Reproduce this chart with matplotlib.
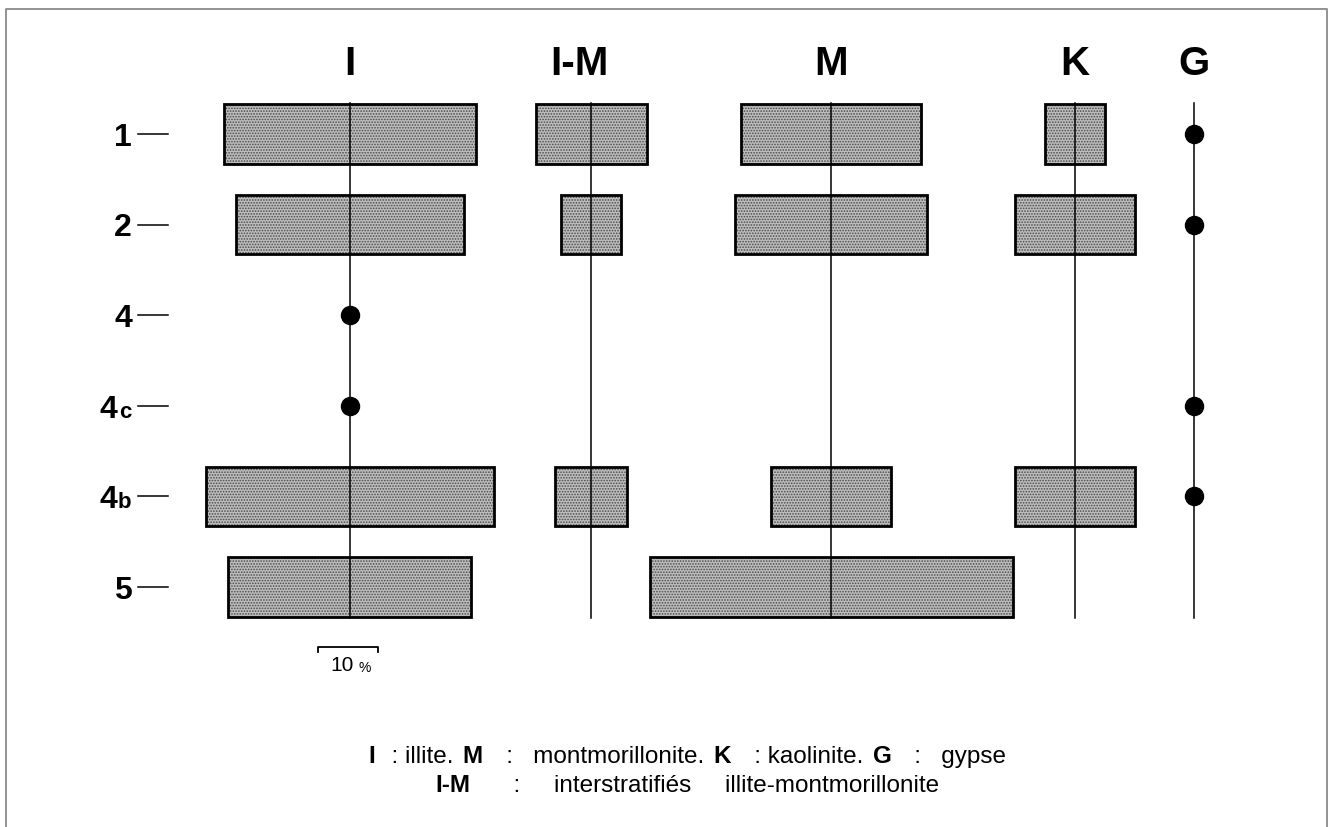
"""
Diagramme des minéraux argileux : largeur des barres = pourcentage,
point noir = traces.
"""

import matplotlib
matplotlib.use("Agg")
import matplotlib.pyplot as plt
from matplotlib.patches import Rectangle
from matplotlib.offsetbox import TextArea, HPacker, AnnotationBbox

plt.rcParams["font.family"] = ["Liberation Sans", "DejaVu Sans"]
plt.rcParams["hatch.linewidth"] = 0.8

# --- données (largeur en %, "tr" = traces, 0 = absent)
minerals = ["I", "I-M", "M", "K", "G"]
row_main = ["1", "2", "4", "4", "4", "5"]
row_sub = ["", "", "", "c", "b", ""]
illite = [42, 38, "tr", "tr", 48, 40.5]
interstrat = [18.5, 10, 0, 0, 12, 0]
montmo = [30, 32, 0, 0, 20, 60.5]
kaolinite = [10, 20, 0, 0, 20, 0]
gypse = ["tr", "tr", 0, "tr", "tr", 0]
columns = [illite, interstrat, montmo, kaolinite, gypse]

# position des colonnes (en unités de %) et échelle
col_pos = [58.3, 98.5, 138.5, 179.2, 199.0]
header_pos = [58.3, 96.5, 138.5, 179.2, 199.0]
scale_pct = 10

W, H = 1333, 828
px_per_pct = 6.0
row_top_px, row_step_px = 135, 90.6

fig = plt.figure(figsize=(W / 100, H / 100), dpi=100)
ax = fig.add_axes([0, 0, 1, 1])
ax.set_xlim(0, W / px_per_pct)
ax.set_ylim((H - row_top_px) / row_step_px, -row_top_px / row_step_px)
ax.axis("off")

bar_h = 0.66
line_top, line_bot = -0.34, 5.34

for xc, vals in zip(col_pos, columns):
    ax.plot([xc, xc], [line_top, line_bot], color="black", lw=1.1, zorder=3)
    for i, v in enumerate(vals):
        if v == "tr":
            ax.plot(xc, i, "o", color="black", ms=13, zorder=4)
        elif v > 0:
            ax.add_patch(Rectangle((xc - v / 2, i - bar_h / 2), v, bar_h,
                                   facecolor="#bdbdbd", edgecolor="#4a4a4a",
                                   hatch="......", lw=0, zorder=1))
            ax.add_patch(Rectangle((xc - v / 2, i - bar_h / 2), v, bar_h,
                                   facecolor="none", edgecolor="black",
                                   lw=2.0, zorder=2))

# titres des colonnes
for xh, name in zip(header_pos, minerals):
    ax.text(xh, -0.78, name, ha="center", va="center", fontsize=29,
            fontweight="bold")

# étiquettes des niveaux
for i, (m, s) in enumerate(zip(row_main, row_sub)):
    ax.plot([23.0, 28.0], [i, i], color="black", lw=1.1)
    if s:
        ax.text(21.9, i + 0.12, s, ha="right", va="baseline",
                fontsize=16, fontweight="bold")
        ax.text(19.6, i + 0.12, m, ha="right", va="baseline",
                fontsize=23, fontweight="bold")
    else:
        ax.text(22.0, i + 0.12, m, ha="right", va="baseline",
                fontsize=23, fontweight="bold")

# barre d'échelle 10 %
sx0 = col_pos[0] - scale_pct / 2 - 0.3
ax.plot([sx0, sx0, sx0 + scale_pct, sx0 + scale_pct],
        [5.72, 5.66, 5.66, 5.72], color="black", lw=1.3)
ax.text(sx0 + 4.0, 5.86, "10", ha="center", va="center", fontsize=15)
ax.text(sx0 + 7.8, 5.88, "%", ha="center", va="center", fontsize=10)

# cadre
fig.add_artist(plt.Line2D([6 / W, 6 / W, 1327 / W, 1327 / W],
                          [0, 1 - 10 / H, 1 - 10 / H, 0],
                          color="#8a8a8a", lw=1.3))

# légende en bas
leg_font = ["Liberation Sans Narrow", "Liberation Sans", "DejaVu Sans"]


def piece(txt, bold=False):
    return TextArea(txt, textprops=dict(fontsize=17.5, family=leg_font,
                                        fontweight="bold" if bold else "normal"))


line1 = [("I", True), ("  : illite. ", False), ("M", True),
         ("   :   montmorillonite. ", False), ("K", True),
         ("   : kaolinite. ", False), ("G", True), ("   :   gypse", False)]
line2 = [("I-M", True), ("      :     interstratifiés     illite-montmorillonite", False)]

for parts, yfig in [(line1, 1 - 757 / H), (line2, 1 - 786 / H)]:
    box = HPacker(children=[piece(t, b) for t, b in parts], pad=0, sep=2)
    ab = AnnotationBbox(box, (0.5155, yfig), xycoords="figure fraction",
                        frameon=False, box_alignment=(0.5, 0.5))
    fig.add_artist(ab)

fig.savefig("out.png", dpi=100)
